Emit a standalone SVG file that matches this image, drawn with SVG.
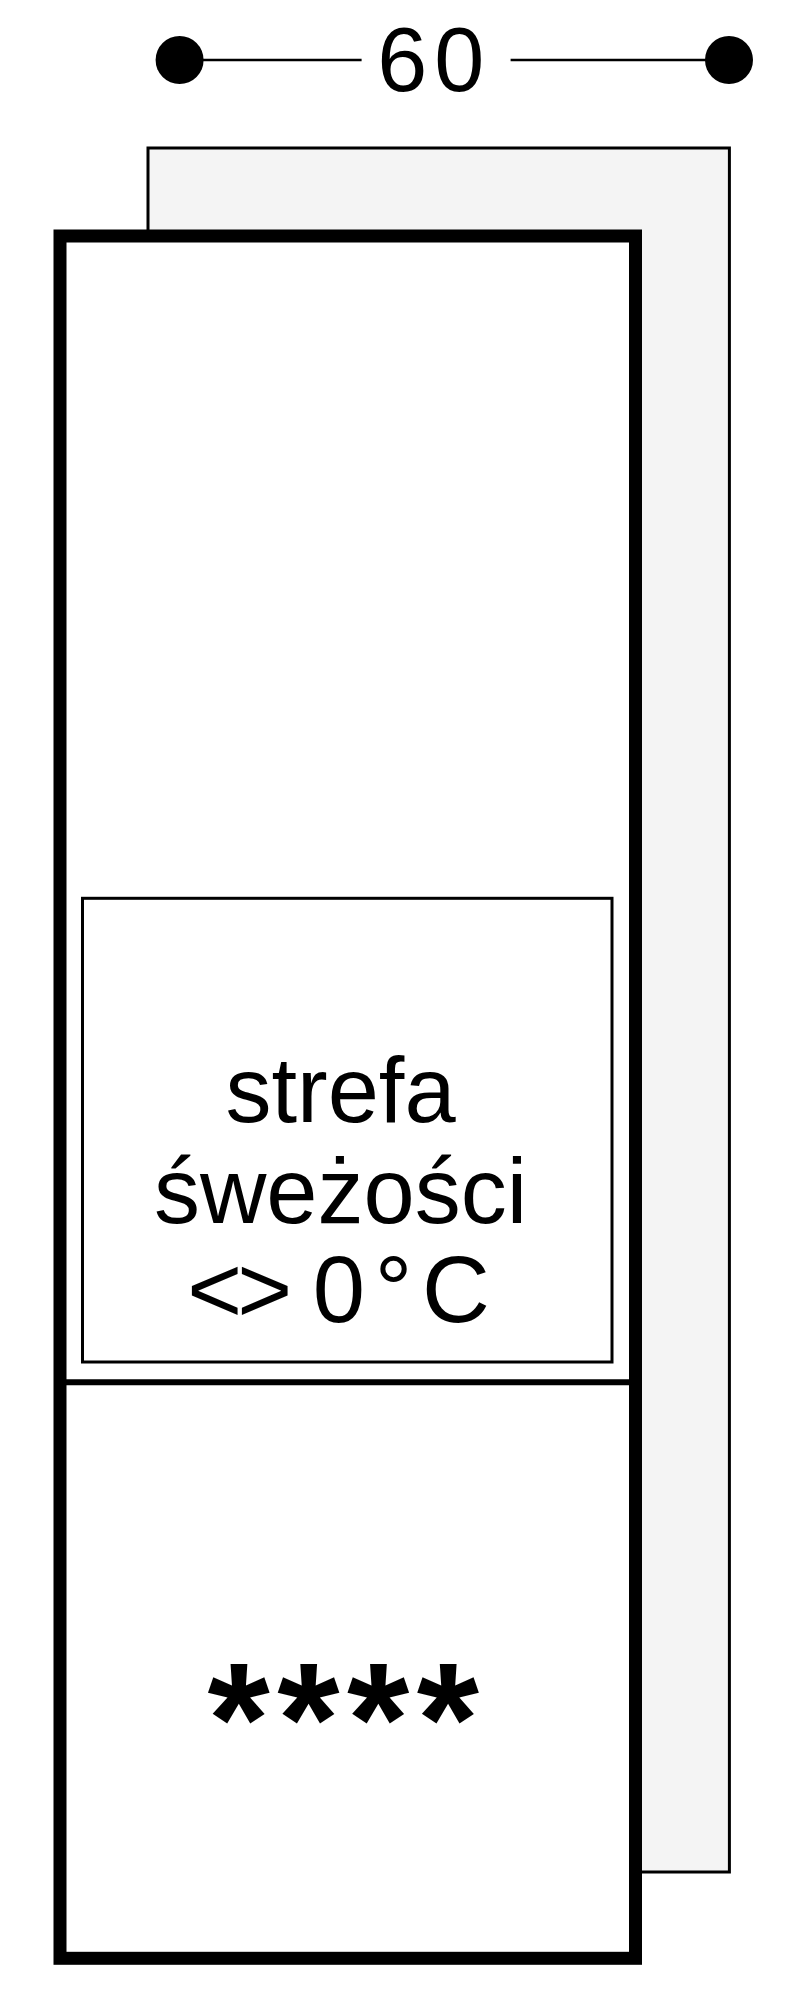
<svg xmlns="http://www.w3.org/2000/svg" width="790" height="2000" viewBox="0 0 790 2000">
  <style>
    .txt { font-family: "Liberation Sans", Arial, sans-serif; fill: #000; }
    .thin { fill: none; stroke: #000; stroke-width: 3; }
    .dim { stroke: #000; stroke-width: 2.5; fill: none; }
  </style>
  <rect x="0" y="0" width="790" height="2000" fill="#ffffff"/>

  <g id="back-panel">
    <rect x="148" y="148" width="581.4" height="1724" fill="#f4f4f4" stroke="#000" stroke-width="3"/>
  </g>

  <g id="cabinet">
    <rect x="60" y="236" width="575.5" height="1722.3" fill="#ffffff" stroke="#000" stroke-width="13"/>
    <line x1="60" y1="1382.3" x2="635.5" y2="1382.3" stroke="#000" stroke-width="6"/>
  </g>

  <g id="fresh-zone">
    <rect x="82.5" y="898.3" width="529.5" height="463.7" class="thin"/>
    <text class="txt" x="340.5" y="1121.5" font-size="92" text-anchor="middle">strefa</text>
    <text class="txt" x="340.5" y="1222.5" font-size="92" text-anchor="middle">śweżości</text>
    <text class="txt" y="1322" font-size="94"><tspan x="187.2">&lt;</tspan><tspan x="237.2">&gt;</tspan><tspan x="312.7"> </tspan><tspan x="312.7">0</tspan><tspan x="374.8">°</tspan><tspan x="422">C</tspan></text>
  </g>

  <g id="freezer">
    <text class="txt" x="207.5" y="1774" font-size="160" font-weight="bold" letter-spacing="7.5">****</text>
  </g>

  <g id="connectors">
    <line x1="180" y1="60" x2="361.6" y2="60" class="dim"/>
    <line x1="510.6" y1="60" x2="729" y2="60" class="dim"/>
  </g>

  <g id="dimension">
    <circle cx="179.6" cy="60" r="24"/>
    <circle cx="729" cy="60" r="24"/>
    <text class="txt" y="91" font-size="90"><tspan x="377.3">6</tspan><tspan x="434.3">0</tspan></text>
  </g>
</svg>
